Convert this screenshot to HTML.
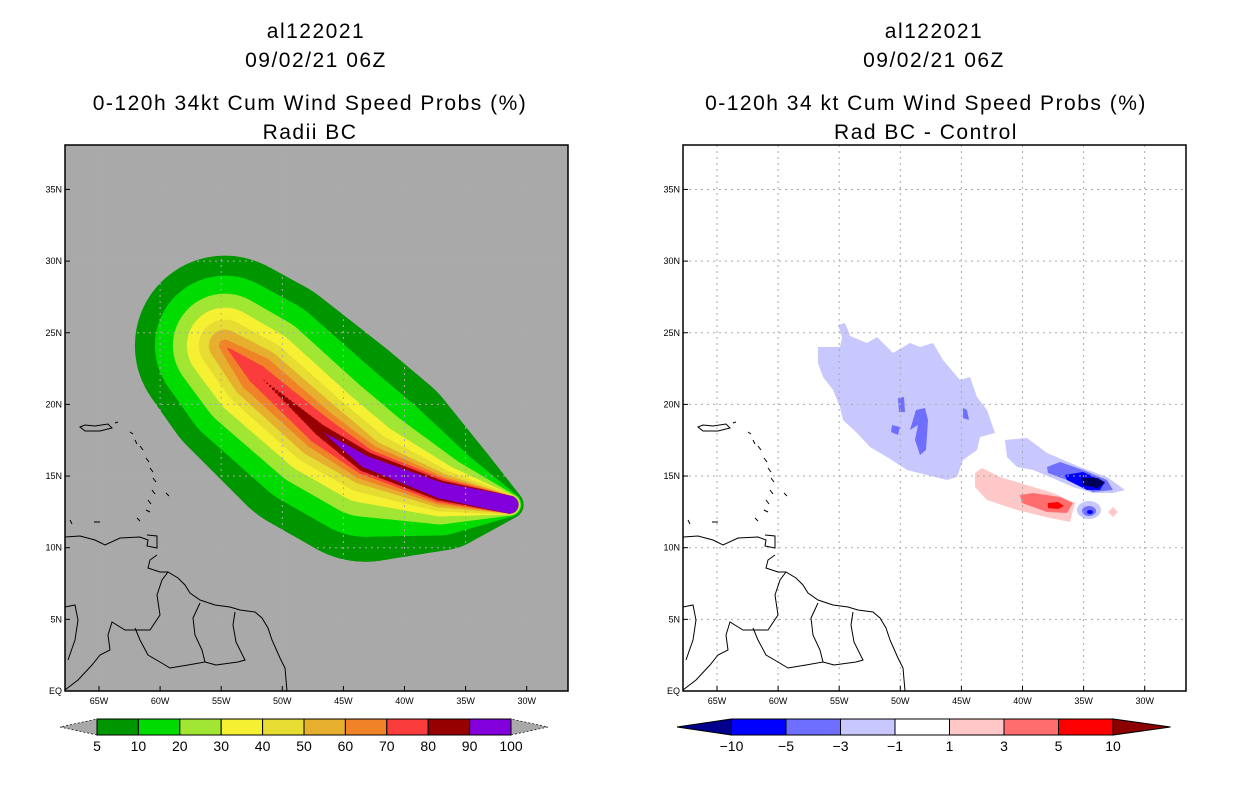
<!DOCTYPE html>
<html><head><meta charset="utf-8"><style>
body{margin:0;background:#fff;width:1236px;height:800px;overflow:hidden}
svg text{font-family:"Liberation Sans",sans-serif}
.t{font-size:21px;letter-spacing:1.5px;text-anchor:middle}
.tk{font-size:9px}
</style></head><body>
<svg id="s" width="1236" height="800" xmlns="http://www.w3.org/2000/svg">
<defs>
<clipPath id="cl"><rect x="65" y="145" width="503" height="546"/></clipPath>
<clipPath id="cr"><rect x="683" y="145" width="503" height="546"/></clipPath>
</defs>
<g>
<text class="t" x="316" y="38">al122021</text>
<text class="t" x="316" y="67">09/02/21 06Z</text>
<text class="t" x="310" y="110">0-120h 34kt Cum Wind Speed Probs (%)</text>
<text class="t" x="310" y="139">Radii BC</text>
</g>
<g>
<text class="t" x="934" y="38">al122021</text>
<text class="t" x="934" y="67">09/02/21 06Z</text>
<text class="t" x="926" y="110">0-120h 34 kt Cum Wind Speed Probs (%)</text>
<text class="t" x="926" y="139">Rad BC - Control</text>
</g>
<rect x="65" y="145" width="503" height="546" fill="#a9a9a9"/>
<g id="prob" clip-path="url(#cl)"></g>
<g clip-path="url(#cr)">
<path fill="#c8c8ff" d="M818,347L840,347L843,333L867,343L877,337L893,353L910,343L920,347L933,343L943,360L960,380L970,377L977,397L987,410L995,433L980,437L977,450L963,460L957,477L947,480L927,475L907,470L887,457L870,447L857,433L843,420L840,407L833,390L823,377L818,363Z"/>
<path fill="#c8c8ff" d="M838,325L845,323L850,335L843,340Z"/>
<g fill="#6e6eff"><path d="M898,398L904,397L905,412L899,412Z"/><path d="M916,410L925,408L928,420L926,450L920,455L915,440L918,425L910,430Z"/><path d="M892,425L900,427L898,435L891,432Z"/><path d="M963,408L967,410L969,420L963,418Z"/></g>
<path fill="#c8c8ff" d="M1005,440L1027,438L1047,453L1080,467L1107,477L1125,490L1113,493L1093,493L1073,487L1050,477L1033,470L1017,467L1007,457Z"/>
<path fill="#6e6eff" d="M1047,467L1060,462L1083,470L1107,480L1113,490L1093,492L1067,480L1048,473Z"/>
<path fill="#0000ff" d="M1065,475L1083,472L1105,482L1100,490L1087,490L1067,480Z"/>
<path fill="#00005a" d="M1082,478L1098,478L1105,483L1097,488L1083,485Z"/>
<path fill="#ffc8c8" d="M975,473L982,468L1000,477L1020,483L1053,493L1075,503L1070,522L1050,518L1017,510L987,500L975,487Z"/>
<path fill="#ff6e6e" d="M1020,495L1033,493L1060,497L1073,503L1067,513L1047,512L1022,503Z"/>
<path fill="#ff0000" d="M1048,503L1058,502L1064,506L1058,509L1048,508Z"/>
<ellipse cx="1089" cy="510" rx="12" ry="9" fill="#c8c8ff"/><ellipse cx="1089" cy="511" rx="7" ry="5" fill="#6e6eff"/><ellipse cx="1090" cy="512" rx="3" ry="2" fill="#0000ff"/>
<path fill="#ffc8c8" d="M1113,507L1118,512L1113,517L1108,512Z"/>
</g>
<g id="grid"></g>
<g id="coastL" fill="none" stroke="#000" stroke-width="1" clip-path="url(#cl)"></g>
<g id="coastR" fill="none" stroke="#000" stroke-width="1" transform="translate(618,0)"></g>
<rect x="65" y="145" width="503" height="546" fill="none" stroke="#000" stroke-width="1.5"/>
<rect x="683" y="145" width="503" height="546" fill="none" stroke="#000" stroke-width="1.5"/>
<g id="ticks"></g>
<g id="cbL"></g>
<g id="cbR"></g>
</svg>
<script>
const lonTicks=[-65,-60,-55,-50,-45,-40,-35,-30];
const latTicks=[0,5,10,15,20,25,30,35];
const trackLon=[-54.7,-52.0,-46.9,-43.2,-37.1,-31.4];
const trackLat=[24.1,22.05,18.2,16.0,14.0,13.0];
const levels=[5,10,20,30,40,50,60,70,80,90];
const levelColors=["#009600","#00dc00","#a0e632","#f5f032","#e6dc32","#e6af2d","#f08228","#fa3c3c","#960000","#8200dc"];
const r5=[90,100,105,100,60,14];
const r10=[70,80,80,75,45,12];
const r20=[52,61,60,55,34,11];
const r30=[38,47,46,41,26,10];
const r40=[26,36,36,31,21,10];
const r50=[16,27,28,23,17,9];
const r60=[6,19,20,18,14,9];
const r70=[0,10,14,13,12,9];
const r80=[0,0,6,10,10,9];
const r90=[0,0,0,6,8,9];
const radii=[r5,r10,r20,r30,r40,r50,r60,r70,r80,r90];
const diffLabels=["-10","-5","-3","-1","1","3","5","10"];
const diffColors=["#00008c","#0000ff","#6e6eff","#c8c8ff","#ffffff","#ffc8c8","#ff6e6e","#ff0000","#8c0000"];
const NS="http://www.w3.org/2000/svg";
function X(lon){return 99+(lon+65)*12.22;}
function Y(lat){return 691-lat*14.33;}
function mk(t,a,p){const e=document.createElementNS(NS,t);for(const k in a)e.setAttribute(k,a[k]);p.appendChild(e);return e;}
const prob=document.getElementById('prob');
levels.forEach((lv,li)=>{
  const g=mk('g',{fill:levelColors[li]},prob);
  
  
  const r=radii[li];
  for(let i=0;i<trackLon.length-1;i++){
    for(let s=0;s<=20;s++){
      const f=s/20;
      const rr=r[i]+(r[i+1]-r[i])*f;
      if(rr<=0.5)continue;
      const lon=trackLon[i]+(trackLon[i+1]-trackLon[i])*f;
      const lat=trackLat[i]+(trackLat[i+1]-trackLat[i])*f;
      mk('circle',{cx:X(lon),cy:Y(lat),r:rr},g);
    }
  }
});
const grid=document.getElementById('grid'),ticks=document.getElementById('ticks');
[0,618].forEach(off=>{
  lonTicks.forEach(l=>{
    const x=X(l)+off;
    const ln=mk('line',{x1:x,x2:x,y1:145,y2:691,stroke:'#aaa','stroke-dasharray':'2,4'},grid);
    
    mk('line',{x1:x,x2:x,y1:691,y2:686,stroke:'#000'},ticks);
    const t=mk('text',{x:x,y:704,'text-anchor':'middle',class:'tk'},ticks);
    t.textContent=(-l)+'W';
    
  });
  latTicks.forEach(l=>{
    const y=Y(l);
    if(l>0){const ln=mk('line',{x1:65+off,x2:568+off,y1:y,y2:y,stroke:'#aaa','stroke-dasharray':'2,4'},grid);
    }
    mk('line',{x1:65+off,x2:70+off,y1:y,y2:y,stroke:'#000'},ticks);
    const t=mk('text',{x:62+off,y:y+3,'text-anchor':'end',class:'tk'},ticks);
    t.textContent=l===0?'EQ':l+'N';
    
  });
});
const coast=[
"M65,537L80,536L95,540L105,545L120,538L140,537L148,540L147,546L157,548L157,536L147,535",
"M157,555L150,560L148,568L160,572L168,572L178,578L185,585L190,593L200,600L215,605L230,607L240,610L255,612L262,618L268,628L272,640L280,658L285,668L287,691",
"M168,572L162,580L157,595L160,615L150,630L125,630L112,622L108,635L110,650L100,655L92,665L78,680L65,690",
"M200,603L193,618L195,635L202,650L205,662L188,665L170,668L160,662L148,655L140,640L135,628",
"M235,612L233,625L236,642L245,660L238,662L216,665L205,662",
"M65,607L75,605L78,620L75,640L68,660",
"M80,427L85,425L95,426L108,424L112,428L100,431L85,431Z",
"M115,423L118,422","M130,432L133,434","M135,440L137,444","M140,446L143,450","M146,458L149,462","M150,468L153,472","M153,478L156,482","M152,490L155,494","M148,500L151,504","M146,510L150,512","M137,518L140,521","M166,493L169,496","M94,522L100,522","M70,520L72,524"];
const cL=document.getElementById('coastL'),cR=document.getElementById('coastR');
coast.forEach(d=>{
  const a=mk('path',{d:d},cL);
  const b=mk('path',{d:d},cR);
});
const cbL=document.getElementById('cbL');
const x0=97,w=41.4,yt=719,h=16;
mk('polygon',{points:`${x0},${yt} ${x0},${yt+h} 60,${yt+h/2}`,fill:'#a9a9a9',stroke:'#000','stroke-dasharray':'2,2','stroke-width':0.7},cbL);
mk('polygon',{points:`${x0+10*w},${yt} ${x0+10*w},${yt+h} 548,${yt+h/2}`,fill:'#a9a9a9',stroke:'#000','stroke-dasharray':'2,2','stroke-width':0.7},cbL);
levelColors.forEach((c,i)=>{
  const r=mk('rect',{x:x0+i*w,y:yt,width:w,height:h,fill:c,stroke:'#000','stroke-width':1},cbL);
  
});
levels.concat([100]).forEach((lv,i)=>{
  const t=mk('text',{x:x0+i*w,y:751,'text-anchor':'middle','font-size':'14'},cbL);
  t.textContent=lv;
  
});
const cbR=document.getElementById('cbR');
const rx0=677,rw=54.5;
diffColors.forEach((c,i)=>{
  const x=rx0+i*rw;
  let e;
  if(i===0)e=mk('polygon',{points:`${x+rw},${yt} ${x+rw},${yt+h} ${x},${yt+h/2}`,fill:c,stroke:'#000'},cbR);
  else if(i===diffColors.length-1)e=mk('polygon',{points:`${x},${yt} ${x},${yt+h} ${x+rw+3},${yt+h/2}`,fill:c,stroke:'#000'},cbR);
  else e=mk('rect',{x:x,y:yt,width:rw,height:h,fill:c,stroke:'#000'},cbR);
  
});
diffLabels.forEach((l,i)=>{
  const t=mk('text',{x:rx0+(i+1)*rw,y:751,'text-anchor':'middle','font-size':'14'},cbR);
  t.textContent=l.replace('-','\u2212');
  
});
</script>
</body></html>
